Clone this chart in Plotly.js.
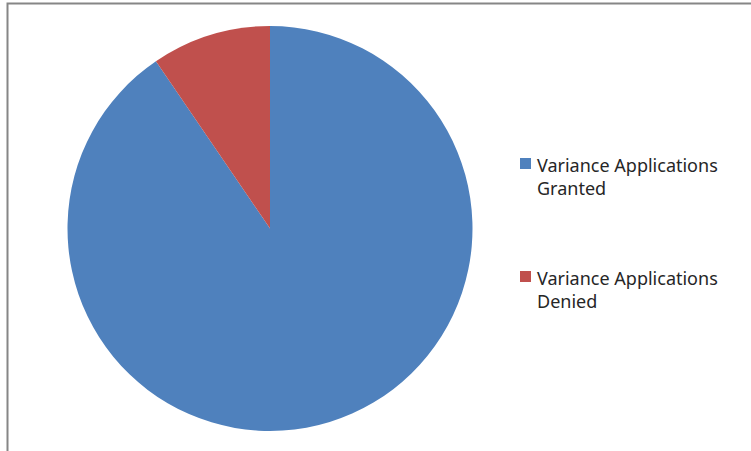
<!DOCTYPE html>
<html>
<head>
<meta charset="utf-8">
<script src="https://cdn.plot.ly/plotly-3.0.1.min.js"></script>
<style>html,body{margin:0;padding:0;background:#fff;}#chart{width:751px;height:451px;}</style>
</head>
<body>
<div id="chart"></div>
<script>
const labels = ["Variance Applications Granted", "Variance Applications Denied"];
const values = [19, 2];
const colors = ["#4F81BD", "#C0504D"];

const W = 751, H = 451;
const px = x => x / W;
const py = y => 1 - y / H;

const trace = {
  type: "pie",
  labels: labels,
  values: values,
  sort: false,
  direction: "clockwise",
  rotation: 0,
  textinfo: "none",
  hoverinfo: "label+value+percent",
  marker: {colors: colors, line: {width: 0}},
  domain: {x: [px(67), px(473)], y: [py(431), py(26)]},
  showlegend: false
};

const shapes = [{
  type: "rect", xref: "paper", yref: "paper",
  x0: px(7.5), x1: px(W + 10), y0: py(H + 10), y1: py(3.5),
  line: {color: "#868686", width: 2}, fillcolor: "rgba(0,0,0,0)"
}];
const annotations = [];
const legendTops = [158, 271];
labels.forEach((lab, i) => {
  const t = legendTops[i];
  shapes.push({
    type: "rect", xref: "paper", yref: "paper",
    x0: px(520), x1: px(531), y0: py(t + 11), y1: py(t),
    line: {width: 0}, fillcolor: colors[i]
  });
  const words = lab.split(" ");
  const last = words.pop();
  annotations.push({
    xref: "paper", yref: "paper", x: px(535), y: py(t - 7),
    xanchor: "left", yanchor: "top", align: "left", showarrow: false,
    text: words.join(" ") + "<br>" + last,
    font: {family: "Noto Sans, sans-serif", size: 18, color: "#262626"}
  });
});

Plotly.newPlot("chart", [trace], {
  width: W, height: H,
  margin: {l: 0, r: 0, t: 0, b: 0},
  paper_bgcolor: "#fff",
  shapes: shapes,
  annotations: annotations
}, {displayModeBar: false, staticPlot: true});
</script>
</body>
</html>
